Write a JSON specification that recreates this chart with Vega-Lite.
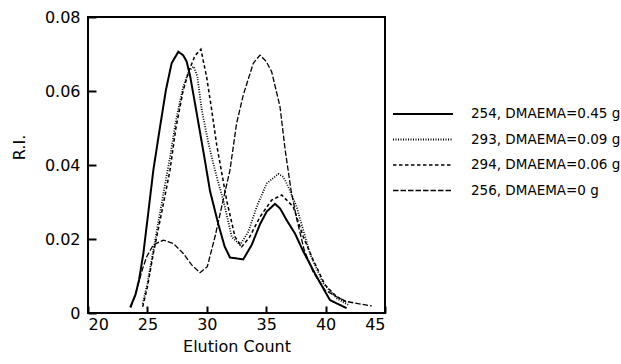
{
  "$schema": "https://vega.github.io/schema/vega-lite/v6.json",
  "autosize": {"type": "none"},
  "padding": {"left": 88, "top": 17, "right": 236, "bottom": 51},
  "width": 297,
  "height": 296,
  "background": "white",
  "config": {
    "font": "DejaVu Sans",
    "view": {"stroke": "black", "strokeWidth": 2},
    "legend": {
      "orient": "none",
      "legendX": 304,
      "legendY": 90,
      "padding": 0,
      "symbolType": "stroke",
      "symbolSize": 3600,
      "symbolStrokeColor": "black",
      "labelFontSize": 13.5,
      "labelColor": "black",
      "labelOffset": 17,
      "labelLimit": 0,
      "clipHeight": 14,
      "rowPadding": 11.5
    }
  },
  "data": {
    "values": [
      {"series": "254, DMAEMA=0.45 g", "count": 23.55, "ri": 0.0015},
      {"series": "254, DMAEMA=0.45 g", "count": 24.0, "ri": 0.005},
      {"series": "254, DMAEMA=0.45 g", "count": 24.3, "ri": 0.009},
      {"series": "254, DMAEMA=0.45 g", "count": 24.66, "ri": 0.0161},
      {"series": "254, DMAEMA=0.45 g", "count": 25.07, "ri": 0.027},
      {"series": "254, DMAEMA=0.45 g", "count": 25.5, "ri": 0.0386},
      {"series": "254, DMAEMA=0.45 g", "count": 26.0, "ri": 0.049},
      {"series": "254, DMAEMA=0.45 g", "count": 26.56, "ri": 0.0603},
      {"series": "254, DMAEMA=0.45 g", "count": 27.04, "ri": 0.0675},
      {"series": "254, DMAEMA=0.45 g", "count": 27.6, "ri": 0.0706},
      {"series": "254, DMAEMA=0.45 g", "count": 28.0, "ri": 0.0697},
      {"series": "254, DMAEMA=0.45 g", "count": 28.3, "ri": 0.068},
      {"series": "254, DMAEMA=0.45 g", "count": 28.6, "ri": 0.064},
      {"series": "254, DMAEMA=0.45 g", "count": 29.15, "ri": 0.054},
      {"series": "254, DMAEMA=0.45 g", "count": 29.8, "ri": 0.042},
      {"series": "254, DMAEMA=0.45 g", "count": 30.27, "ri": 0.033},
      {"series": "254, DMAEMA=0.45 g", "count": 30.97, "ri": 0.024},
      {"series": "254, DMAEMA=0.45 g", "count": 31.5, "ri": 0.018},
      {"series": "254, DMAEMA=0.45 g", "count": 31.95, "ri": 0.015},
      {"series": "254, DMAEMA=0.45 g", "count": 33.07, "ri": 0.0145},
      {"series": "254, DMAEMA=0.45 g", "count": 33.78, "ri": 0.0184},
      {"series": "254, DMAEMA=0.45 g", "count": 34.48, "ri": 0.024},
      {"series": "254, DMAEMA=0.45 g", "count": 35.04, "ri": 0.0274},
      {"series": "254, DMAEMA=0.45 g", "count": 35.74, "ri": 0.0295},
      {"series": "254, DMAEMA=0.45 g", "count": 36.16, "ri": 0.0283},
      {"series": "254, DMAEMA=0.45 g", "count": 36.72, "ri": 0.0251},
      {"series": "254, DMAEMA=0.45 g", "count": 37.42, "ri": 0.0215},
      {"series": "254, DMAEMA=0.45 g", "count": 38.13, "ri": 0.0166},
      {"series": "254, DMAEMA=0.45 g", "count": 39.1, "ri": 0.0107},
      {"series": "254, DMAEMA=0.45 g", "count": 39.95, "ri": 0.0058},
      {"series": "254, DMAEMA=0.45 g", "count": 40.37, "ri": 0.0035},
      {"series": "254, DMAEMA=0.45 g", "count": 40.93, "ri": 0.0026},
      {"series": "254, DMAEMA=0.45 g", "count": 41.77, "ri": 0.0013},

      {"series": "293, DMAEMA=0.09 g", "count": 24.6, "ri": 0.0025},
      {"series": "293, DMAEMA=0.09 g", "count": 25.0, "ri": 0.008},
      {"series": "293, DMAEMA=0.09 g", "count": 25.5, "ri": 0.017},
      {"series": "293, DMAEMA=0.09 g", "count": 26.0, "ri": 0.026},
      {"series": "293, DMAEMA=0.09 g", "count": 26.5, "ri": 0.035},
      {"series": "293, DMAEMA=0.09 g", "count": 26.9, "ri": 0.042},
      {"series": "293, DMAEMA=0.09 g", "count": 27.4, "ri": 0.052},
      {"series": "293, DMAEMA=0.09 g", "count": 28.0, "ri": 0.061},
      {"series": "293, DMAEMA=0.09 g", "count": 28.5, "ri": 0.0655},
      {"series": "293, DMAEMA=0.09 g", "count": 28.9, "ri": 0.0666},
      {"series": "293, DMAEMA=0.09 g", "count": 29.2, "ri": 0.064},
      {"series": "293, DMAEMA=0.09 g", "count": 29.57, "ri": 0.055},
      {"series": "293, DMAEMA=0.09 g", "count": 30.13, "ri": 0.046},
      {"series": "293, DMAEMA=0.09 g", "count": 30.5, "ri": 0.041},
      {"series": "293, DMAEMA=0.09 g", "count": 30.9, "ri": 0.036},
      {"series": "293, DMAEMA=0.09 g", "count": 31.39, "ri": 0.0305},
      {"series": "293, DMAEMA=0.09 g", "count": 32.1, "ri": 0.0206},
      {"series": "293, DMAEMA=0.09 g", "count": 32.8, "ri": 0.0184},
      {"series": "293, DMAEMA=0.09 g", "count": 33.5, "ri": 0.022},
      {"series": "293, DMAEMA=0.09 g", "count": 34.2, "ri": 0.0287},
      {"series": "293, DMAEMA=0.09 g", "count": 35.04, "ri": 0.035},
      {"series": "293, DMAEMA=0.09 g", "count": 36.02, "ri": 0.0376},
      {"series": "293, DMAEMA=0.09 g", "count": 36.44, "ri": 0.0368},
      {"series": "293, DMAEMA=0.09 g", "count": 36.86, "ri": 0.0341},
      {"series": "293, DMAEMA=0.09 g", "count": 37.56, "ri": 0.0287},
      {"series": "293, DMAEMA=0.09 g", "count": 38.68, "ri": 0.0161},
      {"series": "293, DMAEMA=0.09 g", "count": 39.8, "ri": 0.008},
      {"series": "293, DMAEMA=0.09 g", "count": 40.93, "ri": 0.004},
      {"series": "293, DMAEMA=0.09 g", "count": 41.9, "ri": 0.0022},

      {"series": "294, DMAEMA=0.06 g", "count": 24.6, "ri": 0.0017},
      {"series": "294, DMAEMA=0.06 g", "count": 25.0, "ri": 0.007},
      {"series": "294, DMAEMA=0.06 g", "count": 25.5, "ri": 0.0161},
      {"series": "294, DMAEMA=0.06 g", "count": 26.0, "ri": 0.024},
      {"series": "294, DMAEMA=0.06 g", "count": 26.5, "ri": 0.032},
      {"series": "294, DMAEMA=0.06 g", "count": 26.9, "ri": 0.0386},
      {"series": "294, DMAEMA=0.06 g", "count": 27.4, "ri": 0.05},
      {"series": "294, DMAEMA=0.06 g", "count": 28.0, "ri": 0.06},
      {"series": "294, DMAEMA=0.06 g", "count": 28.5, "ri": 0.0655},
      {"series": "294, DMAEMA=0.06 g", "count": 29.0, "ri": 0.0695},
      {"series": "294, DMAEMA=0.06 g", "count": 29.5, "ri": 0.0713},
      {"series": "294, DMAEMA=0.06 g", "count": 29.98, "ri": 0.0639},
      {"series": "294, DMAEMA=0.06 g", "count": 30.41, "ri": 0.0549},
      {"series": "294, DMAEMA=0.06 g", "count": 30.83, "ri": 0.0455},
      {"series": "294, DMAEMA=0.06 g", "count": 31.67, "ri": 0.0305},
      {"series": "294, DMAEMA=0.06 g", "count": 32.37, "ri": 0.0206},
      {"series": "294, DMAEMA=0.06 g", "count": 32.94, "ri": 0.0179},
      {"series": "294, DMAEMA=0.06 g", "count": 33.6, "ri": 0.0205},
      {"series": "294, DMAEMA=0.06 g", "count": 34.48, "ri": 0.026},
      {"series": "294, DMAEMA=0.06 g", "count": 35.46, "ri": 0.0305},
      {"series": "294, DMAEMA=0.06 g", "count": 36.3, "ri": 0.0319},
      {"series": "294, DMAEMA=0.06 g", "count": 37.28, "ri": 0.0287},
      {"series": "294, DMAEMA=0.06 g", "count": 38.12, "ri": 0.0206},
      {"series": "294, DMAEMA=0.06 g", "count": 38.96, "ri": 0.0143},
      {"series": "294, DMAEMA=0.06 g", "count": 39.95, "ri": 0.0076},
      {"series": "294, DMAEMA=0.06 g", "count": 40.93, "ri": 0.0044},
      {"series": "294, DMAEMA=0.06 g", "count": 41.9, "ri": 0.0027},

      {"series": "256, DMAEMA=0 g", "count": 23.6, "ri": 0.0015},
      {"series": "256, DMAEMA=0 g", "count": 24.0, "ri": 0.005},
      {"series": "256, DMAEMA=0 g", "count": 24.24, "ri": 0.008},
      {"series": "256, DMAEMA=0 g", "count": 24.6, "ri": 0.012},
      {"series": "256, DMAEMA=0 g", "count": 24.94, "ri": 0.0152},
      {"series": "256, DMAEMA=0 g", "count": 25.5, "ri": 0.0184},
      {"series": "256, DMAEMA=0 g", "count": 26.34, "ri": 0.0197},
      {"series": "256, DMAEMA=0 g", "count": 27.18, "ri": 0.0188},
      {"series": "256, DMAEMA=0 g", "count": 28.02, "ri": 0.0161},
      {"series": "256, DMAEMA=0 g", "count": 28.73, "ri": 0.013},
      {"series": "256, DMAEMA=0 g", "count": 29.43, "ri": 0.0109},
      {"series": "256, DMAEMA=0 g", "count": 30.04, "ri": 0.0125},
      {"series": "256, DMAEMA=0 g", "count": 30.69, "ri": 0.0206},
      {"series": "256, DMAEMA=0 g", "count": 31.25, "ri": 0.0287},
      {"series": "256, DMAEMA=0 g", "count": 31.95, "ri": 0.0386},
      {"series": "256, DMAEMA=0 g", "count": 32.51, "ri": 0.0513},
      {"series": "256, DMAEMA=0 g", "count": 33.07, "ri": 0.0589},
      {"series": "256, DMAEMA=0 g", "count": 33.91, "ri": 0.0675},
      {"series": "256, DMAEMA=0 g", "count": 34.48, "ri": 0.0697},
      {"series": "256, DMAEMA=0 g", "count": 35.0, "ri": 0.068},
      {"series": "256, DMAEMA=0 g", "count": 35.46, "ri": 0.0652},
      {"series": "256, DMAEMA=0 g", "count": 36.16, "ri": 0.0558},
      {"series": "256, DMAEMA=0 g", "count": 36.6, "ri": 0.044},
      {"series": "256, DMAEMA=0 g", "count": 37.1, "ri": 0.033},
      {"series": "256, DMAEMA=0 g", "count": 37.6, "ri": 0.025},
      {"series": "256, DMAEMA=0 g", "count": 38.2, "ri": 0.017},
      {"series": "256, DMAEMA=0 g", "count": 38.96, "ri": 0.011},
      {"series": "256, DMAEMA=0 g", "count": 39.95, "ri": 0.0062},
      {"series": "256, DMAEMA=0 g", "count": 40.93, "ri": 0.0044},
      {"series": "256, DMAEMA=0 g", "count": 41.77, "ri": 0.0031},
      {"series": "256, DMAEMA=0 g", "count": 42.62, "ri": 0.0026},
      {"series": "256, DMAEMA=0 g", "count": 43.88, "ri": 0.0019}
    ]
  },
  "mark": {"type": "line", "color": "black", "strokeCap": "butt"},
  "encoding": {
    "x": {
      "field": "count",
      "type": "quantitative",
      "scale": {"domain": [20, 45], "nice": false, "zero": false},
      "axis": {
        "title": "Elution Count",
        "values": [20, 25, 30, 35, 40, 45],
        "grid": false,
        "domain": false,
        "offset": -7,
        "ticks": true,
        "tickSize": 7,
        "tickWidth": 2,
        "tickColor": "black",
        "labelFontSize": 16,
        "labelColor": "black",
        "labelPadding": 3,
        "titleFontSize": 16,
        "titleFontWeight": "normal",
        "titleColor": "black",
        "titlePadding": 6
      }
    },
    "y": {
      "field": "ri",
      "type": "quantitative",
      "scale": {"domain": [0, 0.08], "nice": false},
      "axis": {
        "title": "R.I.",
        "values": [0, 0.02, 0.04, 0.06, 0.08],
        "labelExpr": "datum.value == 0 ? '0' : format(datum.value, '.2f')",
        "grid": false,
        "domain": false,
        "offset": -8,
        "ticks": true,
        "tickSize": 8,
        "tickWidth": 2,
        "tickColor": "black",
        "labelFontSize": 16,
        "labelColor": "black",
        "labelPadding": 8,
        "titleFontSize": 16,
        "titleFontWeight": "normal",
        "titleColor": "black",
        "titleAngle": -90,
        "titleX": -77,
        "titleY": 130,
        "titleBaseline": "middle",
        "titleAlign": "center"
      }
    },
    "strokeDash": {
      "field": "series",
      "type": "nominal",
      "scale": {
        "domain": ["254, DMAEMA=0.45 g", "293, DMAEMA=0.09 g", "294, DMAEMA=0.06 g", "256, DMAEMA=0 g"],
        "range": [[1, 0], [1, 1.5], [3.5, 2.5], [5.5, 2]]
      },
      "legend": {"title": null}
    },
    "strokeWidth": {
      "field": "series",
      "type": "nominal",
      "scale": {
        "domain": ["254, DMAEMA=0.45 g", "293, DMAEMA=0.09 g", "294, DMAEMA=0.06 g", "256, DMAEMA=0 g"],
        "range": [2, 1.3, 1.5, 1.5]
      },
      "legend": {"title": null}
    }
  }
}
